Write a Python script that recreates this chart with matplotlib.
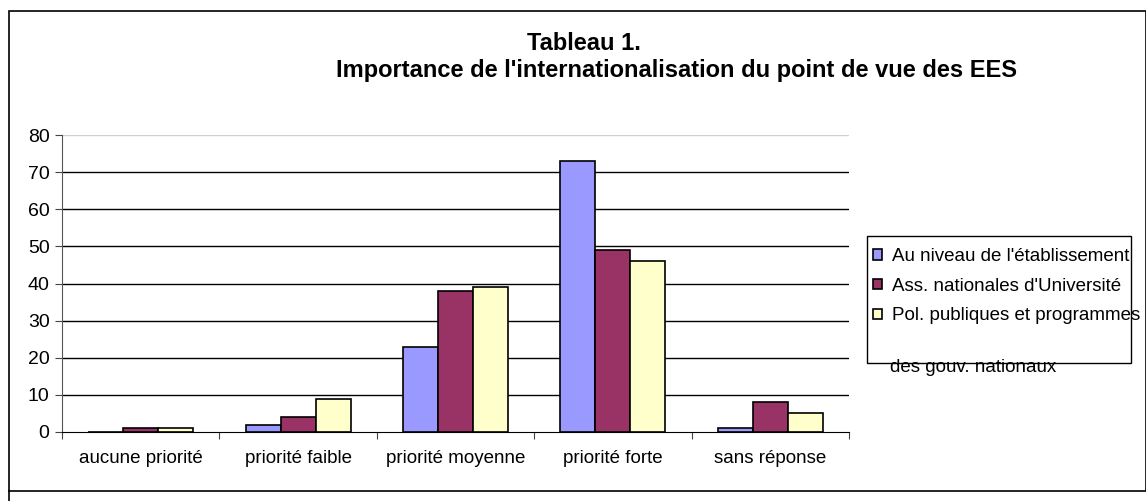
import matplotlib
matplotlib.use('Agg')
import matplotlib.pyplot as plt
from matplotlib.patches import Rectangle
from matplotlib.lines import Line2D
import numpy as np

plt.rcParams['font.family'] = ['Liberation Sans', 'DejaVu Sans']

categories = ["aucune priorité", "priorité faible", "priorité moyenne",
              "priorité forte", "sans réponse"]
series_names = ["Au niveau de l'établissement",
                "Ass. nationales d'Université",
                "Pol. publiques et programmes"]
etablissement = [0, 2, 23, 73, 1]
associations = [1, 4, 38, 49, 8]
politiques = [1, 9, 39, 46, 5]
y_ticks = [0, 10, 20, 30, 40, 50, 60, 70, 80]

colors = ['#9999FF', '#993366', '#FFFFCC']

W, H = 1146, 501
fig = plt.figure(figsize=(W / 100, H / 100), dpi=100)
fig.patch.set_facecolor('white')
ax = fig.add_axes([62 / W, 1 - 432 / H, (849 - 62) / W, (432 - 135) / H])

x = np.arange(len(categories))
w = 1 / 4.5
handles = []
for i, (vals, col) in enumerate(zip([etablissement, associations, politiques], colors)):
    b = ax.bar(x + (i - 1) * w, vals, width=w, color=col, edgecolor='black',
               linewidth=1.2, zorder=3)
    handles.append(b)

ax.set_xlim(-0.5, len(categories) - 0.5)
ax.set_ylim(0, 80)
ax.set_yticks(y_ticks)
ax.set_yticklabels([str(v) for v in y_ticks], fontsize=14)

# gridlines (top one is the grey plot-area edge)
for v in y_ticks[1:-1]:
    ax.axhline(v, color='black', linewidth=1, zorder=1)
ax.axhline(80, color='#d0d0d0', linewidth=1, zorder=1)

# category labels between boundary ticks
ax.set_xticks(np.arange(len(categories) + 1) - 0.5)
ax.set_xticklabels([])
ax.set_xticks(x, minor=True)
ax.set_xticklabels(categories, minor=True, fontsize=13.5)
ax.tick_params(axis='x', which='minor', length=0, pad=13)
ax.tick_params(axis='x', which='major', length=5, direction='out', color='#444444')
ax.tick_params(axis='y', length=5, direction='out', color='#444444', pad=4)

for s in ['top', 'right']:
    ax.spines[s].set_visible(False)
ax.spines['left'].set_color('#555555')
ax.spines['bottom'].set_color('black')
ax.set_facecolor('white')

# legend (frame drawn separately so the text can spill over like the original)
leg = fig.legend(handles, series_names,
                 loc='upper left', bbox_to_anchor=(873 / W, 1 - 248 / H),
                 bbox_transform=fig.transFigure, fontsize=13.5,
                 frameon=False, borderpad=0, labelspacing=0.68,
                 handlelength=0.5, handleheight=0.5, handletextpad=0.5,
                 borderaxespad=0)
fig.patches.append(Rectangle((867 / W, 1 - 363 / H), (1131 - 867) / W, (363 - 236) / H,
                             transform=fig.transFigure, fill=False,
                             edgecolor='black', linewidth=1))
fig.text(890 / W, 1 - 368 / H, "des gouv. nationaux", fontsize=13.5,
         ha='left', va='center', zorder=0)

# titles
fig.text(584 / W, 1 - 43 / H, "Tableau 1.", fontsize=17,
         fontweight='bold', ha='center', va='center')
fig.text(677 / W, 1 - 71 / H,
         "Importance de l'internationalisation du point de vue des EES",
         fontsize=17, fontweight='bold', ha='center', va='center')

# outer frame
fig.patches.append(Rectangle((9 / W, 1 - 491 / H), (W - 9) / W, (491 - 11) / H,
                             transform=fig.transFigure, fill=False,
                             edgecolor='black', linewidth=1.2))
fig.lines.append(Line2D([9 / W, 9 / W], [0, 1 - 491 / H],
                        transform=fig.transFigure, color='black', linewidth=1.2))

plt.savefig('out.png', dpi=100, facecolor='white')
plt.close()
